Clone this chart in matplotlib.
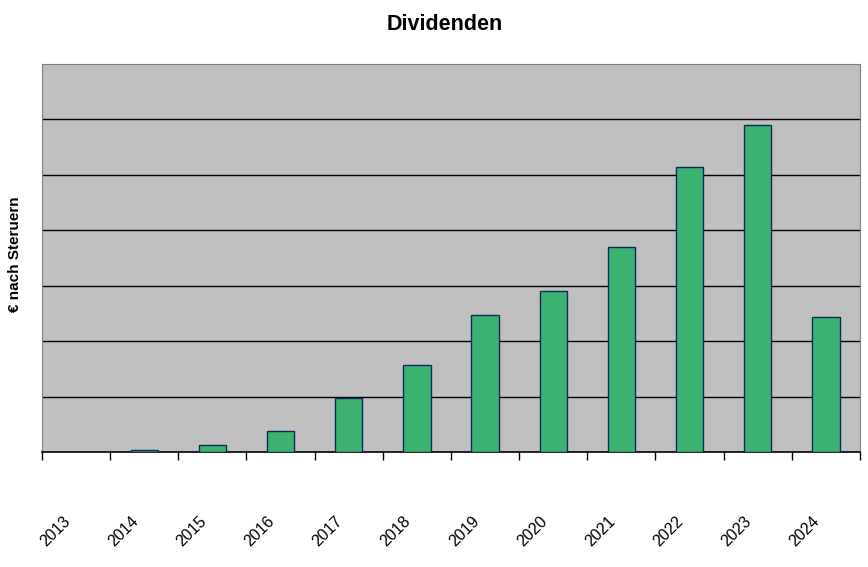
import numpy as np
import matplotlib
matplotlib.use('Agg')
import matplotlib.pyplot as plt
import matplotlib.transforms as mtransforms

plt.rcParams['font.family'] = ['Liberation Sans', 'DejaVu Sans']

# Daten (Einheiten = Gitterabstände, keine Y-Beschriftung im Original)
years = ['2013', '2014', '2015', '2016', '2017', '2018',
         '2019', '2020', '2021', '2022', '2023', '2024']
dividends = [0.0, 0.04, 0.13, 0.38, 0.97, 1.57,
             2.47, 2.91, 3.70, 5.14, 5.90, 2.44]

fig = plt.figure(figsize=(8.68, 5.67), dpi=100)
ax = fig.add_axes([42/868, 1 - 452/567, (860 - 42)/868, (452 - 64)/567])
ax.set_facecolor('#C0C0C0')

x = np.arange(len(years)) + 0.5
ax.bar(x, dividends, width=0.4, color='#3CB371', edgecolor='#0D2A5E',
       linewidth=1.0, zorder=3)

ax.set_xlim(0, len(years))
ax.set_ylim(0, 7)
ax.set_yticks(np.arange(1, 7))
ax.yaxis.grid(True, color='black', linewidth=1.0, zorder=1)
ax.tick_params(axis='y', left=False, labelleft=False)

# Striche an den Kategoriegrenzen, Beschriftung in der Mitte
ax.set_xticks(np.arange(0, len(years) + 1))
ax.set_xticklabels([])
ax.set_xticks(x, minor=True)
ax.set_xticklabels(years, minor=True, rotation=45, ha='center', va='center',
                   fontsize=11.5)
ax.tick_params(axis='x', which='major', direction='out', length=6,
               width=1, color='black')
ax.tick_params(axis='x', which='minor', length=0, pad=0)
offset = mtransforms.ScaledTranslation(-21/100, -79/100, fig.dpi_scale_trans)
for lab in ax.get_xticklabels(minor=True):
    lab.set_transform(lab.get_transform() + offset)

for side in ['left', 'top', 'right']:
    ax.spines[side].set_color('#808080')
ax.spines['bottom'].set_color('black')
ax.spines['bottom'].set_linewidth(1.2)

fig.text(445/868, 1 - 24/567, 'Dividenden', ha='center', va='center',
         fontsize=15.5, fontweight='bold')
fig.text(15/868, 1 - 254/567, '€ nach Steruern', ha='center', va='center',
         rotation=90, fontsize=11, fontweight='bold')

plt.savefig('out.png', dpi=100)
